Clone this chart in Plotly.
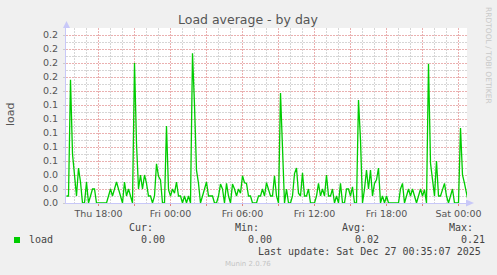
import pandas as pd
import plotly.graph_objects as go

# ---- data (load average, hundredths), 10-minute samples ----
start_time = "2025-12-25 15:20"
sample_step = "10min"
load_hundredths = [
    1, 1, 17.6, 7, 4, 1, 5, 3, 0, 0,
    3, 0, 1, 2, 2, 0, 0, 0, 0, 0,
    0, 1, 2, 1, 2, 3, 2, 1, 0, 3,
    1, 2, 1, 0, 20, 8.5, 2, 4, 2, 4,
    2.8, 1, 1, 0, 1, 5.6, 3.8, 3.3, 0, 0,
    11, 1.9, 1, 2, 1.4, 3, 1, 1, 0, 1,
    0, 1, 0, 21.4, 14, 4.7, 2.8, 0, 1, 2,
    3, 1, 1, 1, 0, 0, 1, 2.7, 2, 0,
    2.8, 1, 0, 2.7, 2, 1, 2, 1.4, 3.9, 2.9,
    2.8, 1, 1, 0, 0, 0, 1, 1, 2, 1,
    2.9, 2, 1, 1, 3.9, 1, 0, 15.7, 8, 0,
    2, 0, 0, 1, 4.2, 5, 1.4, 1, 4.3, 1,
    1, 2, 0, 0, 0, 1, 2.8, 1, 2, 1,
    4, 1, 1, 2, 0, 1, 0, 2.8, 0, 0,
    2, 2, 1, 2.3, 0, 0, 14.7, 9, 0, 2,
    4.7, 2, 4.7, 1, 2.8, 3.3, 5, 0, 1, 0,
    1, 0, 0, 0, 0, 0, 0, 2, 2.8, 0,
    1, 2, 1, 2, 1, 0, 1, 2, 1, 1.9,
    0, 19.9, 5.7, 3, 1, 6, 1, 1, 2, 2.8,
    1, 0, 1, 2, 0, 0, 0, 10.7, 4, 2.8,
    1.4, 0,
]
series_name = "load"
title_text = "Load average - by day"
y_label = "load"
x_tick_times = ["2025-12-25 18:00", "2025-12-25 21:00", "2025-12-26 00:00", "2025-12-26 03:00",
                "2025-12-26 06:00", "2025-12-26 09:00", "2025-12-26 12:00", "2025-12-26 15:00",
                "2025-12-26 18:00", "2025-12-26 21:00", "2025-12-27 00:00"]
x_tick_text = ["Thu 18:00", "", "Fri 00:00", "", "Fri 06:00", "", "Fri 12:00", "",
               "Fri 18:00", "", "Sat 00:00"]
x_range = ["2025-12-25 15:17:30", "2025-12-27 00:42:30"]
y_range = [0, 0.25]
stat_labels = ["Cur:", "Min:", "Avg:", "Max:"]
stat_values = ["0.00", "0.00", "0.02", "0.21"]
last_update = "Last update: Sat Dec 27 00:35:07 2025"
footer = "Munin 2.0.76"
side_text = "RRDTOOL / TOBI OETIKER"

times = pd.date_range(start_time, periods=len(load_hundredths), freq=sample_step)
values = [v / 100 for v in load_hundredths]

W, H = 497, 275
L, R, T, B = 66, 467, 28, 203
PW, PH = R - L, B - T


def px(x):
    return (x - L) / PW


def py(y):
    return (B - y) / PH


GREEN = "#00CC00"
AXIS = "#c8c8f8"
MAJ = "#eab0b0"
MIN = "#d6d6d6"
TXT = "#555555"
DASH = "2px,1px"

fig = go.Figure()
fig.add_trace(go.Scatter(x=times, y=values, mode="lines", name=series_name,
                         line=dict(color=GREEN, width=1.3), showlegend=False))

fig.update_layout(
    width=W, height=H, autosize=False,
    margin=dict(l=L, r=W - R, t=T, b=H - B, pad=0),
    paper_bgcolor="#F0F0F0", plot_bgcolor="#FFFFFF",
    font=dict(family="DejaVu Sans", size=9.5, color=TXT),
)

fig.update_xaxes(
    type="date", range=x_range,
    tickmode="array", tickvals=x_tick_times, ticktext=x_tick_text,
    showgrid=True, gridcolor=MAJ, griddash=DASH, gridwidth=1,
    minor=dict(dtick=3600000, tick0="2025-12-25 00:00", showgrid=True,
               gridcolor=MIN, griddash=DASH, gridwidth=1),
    showline=True, linecolor=AXIS, linewidth=1,
    ticks="outside", ticklen=2, tickcolor="#e08080",
    tickfont=dict(family="DejaVu Sans", size=9.5, color=TXT),
    zeroline=False, fixedrange=True,
)
fig.update_yaxes(
    range=y_range, tickmode="linear", tick0=0, dtick=0.02, tickformat=".1f",
    showgrid=True, gridcolor=MAJ, griddash=DASH, gridwidth=1,
    minor=dict(dtick=0.01, showgrid=True, gridcolor=MIN, griddash=DASH, gridwidth=1),
    showline=True, linecolor=AXIS, linewidth=1,
    ticks="outside", ticklen=2, tickcolor="#cccccc",
    ticklabelstandoff=3,
    tickfont=dict(family="DejaVu Sans", size=9.5, color=TXT),
    zeroline=False, fixedrange=True,
)

ann = []


def add_text(text, x, y, size, color, anchor="left", family="DejaVu Sans Mono", angle=0):
    ann.append(dict(text=text, x=px(x), y=py(y), xref="paper", yref="paper",
                    xanchor=anchor, yanchor="middle", showarrow=False,
                    textangle=angle, font=dict(family=family, size=size, color=color)))


add_text(title_text, 248, 19, 12.5, "#555555", "center", "DejaVu Sans")
add_text(y_label, 10, 114, 11, "#555555", "center", "DejaVu Sans", angle=-90)
add_text(side_text, 488, 55, 7.5, "#c8c8c8", "center", "DejaVu Sans", angle=90)
stat_x = [127, 233, 340, 447]
val_x = [139, 246, 353, 459]
for lab, xx in zip(stat_labels, stat_x):
    add_text(lab, xx, 227.5, 10, "#444444")
add_text(series_name, 27, 239.5, 10, "#444444")
for v, xx in zip(stat_values, val_x):
    add_text(v, xx, 239.5, 10, "#444444")
add_text(last_update, 483, 251.5, 10, "#444444", "right")
add_text(footer, 248, 264, 7, "#c4c4c4", "center", "DejaVu Sans")
fig.update_layout(annotations=ann)

shapes = [
    # legend swatch
    dict(type="rect", xref="paper", yref="paper", x0=px(14), x1=px(20), y0=py(243), y1=py(237),
         fillcolor=GREEN, line=dict(width=0)),
    # axis arrows
    dict(type="path", xref="paper", yref="paper",
         path=f"M {px(63)} {py(28)} L {px(66.5)} {py(21)} L {px(70)} {py(28)} Z",
         fillcolor=AXIS, line=dict(width=0)),
    dict(type="path", xref="paper", yref="paper",
         path=f"M {px(466)} {py(199.5)} L {px(474)} {py(203)} L {px(466)} {py(206.5)} Z",
         fillcolor=AXIS, line=dict(width=0)),
]
fig.update_layout(shapes=shapes)

fig.write_html("out.html", config={"displayModeBar": False})
